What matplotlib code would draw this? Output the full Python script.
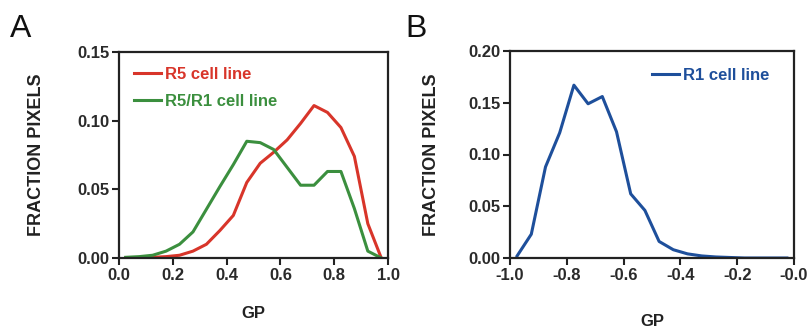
import matplotlib
matplotlib.use('Agg')
import matplotlib.pyplot as plt

plt.rcParams['font.family'] = ['Liberation Sans', 'DejaVu Sans']

# panel A: GP histograms (bin centres)
gp_a = [0.025, 0.075, 0.125, 0.175, 0.225, 0.275, 0.325, 0.375, 0.425, 0.475,
        0.525, 0.575, 0.625, 0.675, 0.725, 0.775, 0.825, 0.875, 0.925, 0.975]
r5 = [0.0, 0.0, 0.0005, 0.001, 0.002, 0.005, 0.010, 0.020, 0.031, 0.055,
      0.069, 0.077, 0.086, 0.098, 0.111, 0.106, 0.095, 0.074, 0.025, 0.0]
r5_r1 = [0.0005, 0.001, 0.002, 0.005, 0.010, 0.019, 0.0355, 0.052, 0.068, 0.085,
         0.084, 0.079, 0.066, 0.053, 0.053, 0.063, 0.063, 0.036, 0.005, 0.0]

# panel B
gp_b = [-0.975, -0.925, -0.875, -0.825, -0.775, -0.725, -0.675, -0.625, -0.575, -0.525,
        -0.475, -0.425, -0.375, -0.325, -0.275, -0.225, -0.175, -0.125, -0.075, -0.025]
r1 = [0.002, 0.023, 0.088, 0.121, 0.167, 0.149, 0.156, 0.122, 0.062, 0.046,
      0.016, 0.008, 0.004, 0.002, 0.001, 0.0005, 0.0, 0.0, 0.0, 0.0]

xticks_a = [0.0, 0.2, 0.4, 0.6, 0.8, 1.0]
yticks_a = [0.00, 0.05, 0.10, 0.15]
xticks_b = [-1.0, -0.8, -0.6, -0.4, -0.2, 0.0]
xticklabels_b = ['-1.0', '-0.8', '-0.6', '-0.4', '-0.2', '-0.0']
yticks_b = [0.00, 0.05, 0.10, 0.15, 0.20]

RED = '#d8352a'
GREEN = '#3b8f3e'
BLUE = '#1e4f9b'
SPINE = '#222222'

fig = plt.figure(figsize=(8.1, 3.31), dpi=100)
ax1 = fig.add_axes([119 / 810, 73 / 331, 269 / 810, 206 / 331])
ax2 = fig.add_axes([510 / 810, 73 / 331, 284 / 810, 207 / 331])


def style(ax):
    for s in ax.spines.values():
        s.set_linewidth(1.6)
        s.set_color(SPINE)
    ax.tick_params(direction='out', length=5, width=1.5, color=SPINE,
                   labelsize=12, pad=2)
    for lab in ax.get_xticklabels() + ax.get_yticklabels():
        lab.set_fontweight('bold')
        lab.set_color('#2a2a2a')


ax1.plot(gp_a, r5, color=RED, lw=2.2, label='R5 cell line')
ax1.plot(gp_a, r5_r1, color=GREEN, lw=2.2, label='R5/R1 cell line')
ax1.set_xlim(0, 1.0)
ax1.set_ylim(0, 0.15)
ax1.set_xticks(xticks_a)
ax1.set_xticklabels([f'{v:.1f}' for v in xticks_a])
ax1.set_yticks(yticks_a)
ax1.set_yticklabels([f'{v:.2f}' for v in yticks_a])
style(ax1)
ax1.set_xlabel('GP', fontsize=12, fontweight='bold', color='#222222')
ax1.set_ylabel('FRACTION PIXELS', fontsize=13, fontweight='bold', color='#222222')
ax1.xaxis.set_label_coords(0.5, -0.235)
ax1.yaxis.set_label_coords(-0.275, 0.5)
ax1.legend(loc='upper left', bbox_to_anchor=(0.0, 1.0), frameon=False,
           handlelength=1.6, handletextpad=0.25, labelspacing=0.7,
           labelcolor='linecolor', prop={'weight': 'bold', 'size': 12})

ax2.plot(gp_b, r1, color=BLUE, lw=2.2, label='R1 cell line')
ax2.set_xlim(-1.0, 0.0)
ax2.set_ylim(0, 0.20)
ax2.set_xticks(xticks_b)
ax2.set_xticklabels(xticklabels_b)
ax2.set_yticks(yticks_b)
ax2.set_yticklabels([f'{v:.2f}' for v in yticks_b])
style(ax2)
ax2.set_xlabel('GP', fontsize=12, fontweight='bold', color='#222222')
ax2.set_ylabel('FRACTION PIXELS', fontsize=13, fontweight='bold', color='#222222')
ax2.xaxis.set_label_coords(0.5, -0.27)
ax2.yaxis.set_label_coords(-0.245, 0.5)
ax2.legend(loc='upper right', bbox_to_anchor=(0.965, 0.99), frameon=False,
           handlelength=1.6, handletextpad=0.25,
           labelcolor='linecolor', prop={'weight': 'bold', 'size': 12})

fig.text(10 / 810, 1 - 37 / 331, 'A', fontsize=23, color='#111111')
fig.text(405 / 810, 1 - 37 / 331, 'B', fontsize=23, color='#111111')

fig.savefig('out.png', dpi=100, facecolor='white')
